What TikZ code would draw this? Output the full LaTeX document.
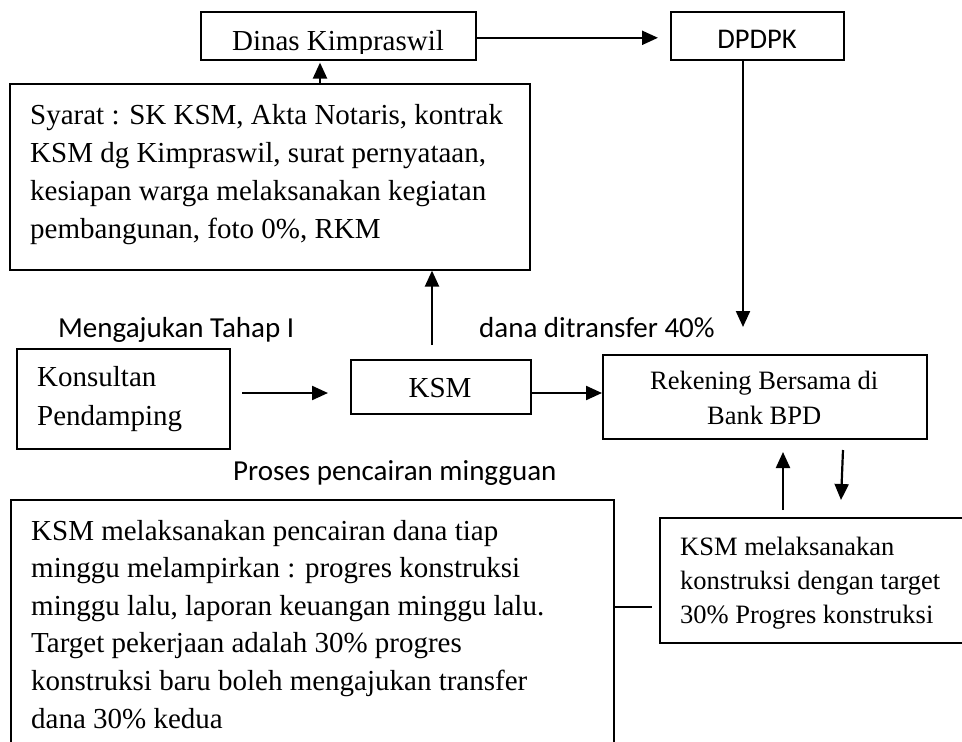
\documentclass[tikz,border=0pt]{standalone}
\usepackage{fontspec}
\setmainfont{Liberation Serif}
\newfontfamily\calfont{Carlito}
\usetikzlibrary{arrows.meta}
\begin{document}
\begin{tikzpicture}[x=1pt,y=-1pt,
  box/.style={draw, line width=1.6pt, inner sep=0pt, anchor=north west},
  arr/.style={line width=2.2pt, -{Triangle[length=16pt,width=14pt]}},
  conn/.style={line width=2.2pt},
  tx/.style={inner sep=0pt, anchor=base west, font=\fontsize{29}{38}\selectfont},
  txs/.style={inner sep=0pt, anchor=base west, font=\fontsize{26.5}{34}\selectfont},
  lbl/.style={inner sep=0pt, anchor=base west, font=\calfont\fontsize{29}{36}\selectfont},
]
\useasboundingbox (0,0) rectangle (962,742);
% boxes
\node[box, minimum width=275pt, minimum height=48pt] (dinas) at (200,11) {};
\node[box, minimum width=173pt, minimum height=48pt] (dpdpk) at (670,11) {};
\node[box, minimum width=520pt, minimum height=186pt] (syarat) at (9,83) {};
\node[box, minimum width=213pt, minimum height=100pt] (kons) at (16,348) {};
\node[box, minimum width=180pt, minimum height=54pt] (ksm) at (350,359) {};
\node[box, minimum width=324pt, minimum height=84pt] (rek) at (602,354) {};
\node[box, minimum width=603pt, minimum height=270pt] (cair) at (10,499) {};
\node[box, minimum width=320pt, minimum height=125pt] (kons2) at (659,517) {};
% texts
\begin{scope}
\clip (200,11) rectangle (475,53);
\node[tx, anchor=base] (tdinas) at (338,50) {Dinas Kimpraswil};
\end{scope}
\node[inner sep=0pt, anchor=base, font=\calfont\fontsize{28.5}{34}\selectfont] (tdpdpk) at (757,48) {DPDPK};
\node[tx] (tsyarat) at (30,124) {\parbox[t]{495pt}{\baselineskip=38pt
Syarat : SK KSM, Akta Notaris, kontrak\\
KSM dg Kimpraswil, surat pernyataan,\\
kesiapan warga melaksanakan kegiatan\\
pembangunan, foto 0\%, RKM}};
\node[tx] (tkons) at (37,386) {\parbox[t]{190pt}{\baselineskip=39pt
Konsultan\\
Pendamping}};
\node[tx, anchor=base] (tksm) at (440,397) {KSM};
\node[txs] (trek) at (602,389) {\parbox[t]{324pt}{\centering\baselineskip=35pt
Rekening Bersama di\\
Bank BPD}};
\node[tx] (tcair) at (31,540) {\parbox[t]{580pt}{\baselineskip=37.6pt
KSM melaksanakan pencairan dana tiap\\
minggu melampirkan : progres konstruksi\\
minggu lalu, laporan keuangan minggu lalu.\\
Target pekerjaan adalah 30\% progres\\
konstruksi baru boleh mengajukan transfer\\
dana 30\% kedua}};
\node[txs] (tkons2) at (680,555) {\parbox[t]{280pt}{\baselineskip=34pt
KSM melaksanakan\\
konstruksi dengan target\\
30\% Progres konstruksi}};
% labels
\node[lbl] (lmeng) at (58,337) {Mengajukan Tahap I};
\node[lbl] (ldana) at (479,337) {dana ditransfer 40\%};
\node[lbl] (lproses) at (233,480) {Proses pencairan mingguan};
% free ends
\coordinate (dtip) at (743,327);
\coordinate (ksmtop) at (432,345);
\coordinate (ka) at (242,393);
\coordinate (kb) at (328,393);
\coordinate (upa) at (783,510);
\coordinate (upb) at (783,452);
\coordinate (dna) at (843,450);
\coordinate (dnb) at (841,500);
\coordinate (cend) at (652,607);
% connectors
\draw[arr] ([yshift=-2pt]dinas.east) -- ([xshift=-12pt,yshift=-2pt]dpdpk.west);
\draw[arr] (syarat.north -| 320,0) -- ([yshift=-2pt]dinas.south -| 320,0);
\draw[arr] (dpdpk.south -| dtip) -- (dtip);
\draw[arr] (ksmtop) -- (ksmtop |- syarat.south);
\draw[arr] (ka) -- (kb);
\draw[arr] (ksm.east |- ka) -- (rek.west |- ka);
\draw[arr] (upa) -- (upb);
\draw[arr] (dna) -- (dnb);
\draw[conn] (cair.east |- cend) -- (cend);
\end{tikzpicture}
\end{document}
